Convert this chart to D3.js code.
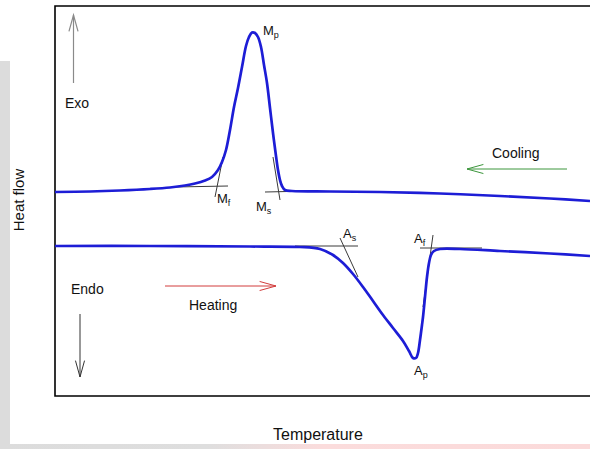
<!DOCTYPE html>
<html>
<head>
<meta charset="utf-8">
<script src="https://cdn.jsdelivr.net/npm/d3@7"></script>
<style>
  html, body { margin: 0; padding: 0; background: #fff; }
  svg { display: block; font-family: "Liberation Sans", Arial, sans-serif; }
</style>
</head>
<body>
<div id="chart"></div>
<script>
/* DSC thermogram sketch: cooling (exo peak, martensite) and heating
   (endo dip, austenite) traces, with onset/finish tangent constructions. */

// Cooling trace: temperature (arb.) vs heat flow (arb.)
var coolT = [0, 7, 13, 19, 23, 26, 28, 30, 31.4, 32.6, 33.4, 34.2, 35, 35.8, 36.6, 37.4, 38.2, 38.8, 39.4,
  40, 40.6, 41.2, 41.8, 42.4, 43, 43.6, 44.2, 44.6, 45, 45.4, 46, 47.4, 55, 65, 77, 89, 99, 107];
var coolH = [40.8, 40.9, 41.1, 41.4, 41.7, 42.1, 42.5, 43.1, 43.8, 45.2, 46.8, 49.2, 53.2, 57.8, 61.6, 65.8, 70, 71.8, 72.7,
  72.6, 71.8, 69.8, 66.2, 62.6, 57.6, 52.6, 48, 45.2, 43.2, 42, 41.2, 41, 40.9, 40.8, 40.5, 40, 39.5, 39];

// Heating trace
var heatT = [0, 19, 39, 49, 53, 55.6, 57.6, 59.6, 61.6, 63.6, 65.6, 67.6, 69.6, 70.8, 71.6, 72.2, 72.6, 73, 73.4, 73.6,
  74, 74.4, 74.8, 75.2, 75.8, 77, 81, 89, 99, 107];
var heatH = [30, 30, 29.9, 29.8, 29.4, 28.2, 26.6, 24.4, 21.8, 19, 16.2, 13.6, 11, 9, 7.6, 7.6, 8.6, 11.2, 14.2, 15.8,
  19.8, 23.8, 26.6, 28.2, 29, 29.4, 29.4, 29, 28.5, 28];

// Tangent construction lines: [T1, H1, T2, H2]
var tangents = [
  [24, 41.8, 34.6, 42], [33.6, 47.8, 32, 39.8],     // Mf
  [42, 40.8, 51, 41], [43.6, 47.8, 45, 39.2],       // Ms
  [48, 30, 60.6, 30], [57, 31.6, 60.6, 23.8],       // As
  [73, 29.6, 85.4, 29.6], [75.6, 32.2, 73.6, 17.8]  // Af
];

// Point labels: main letter, subscript, anchor (T, H)
var ptMain = ['M', 'M', 'M', 'A', 'A', 'A'];
var ptSub = ['p', 'f', 's', 's', 'f', 'p'];
var ptT = [41.6, 32.4, 40.2, 57.6, 71.8, 71.8];
var ptH = [72.2, 38.6, 37, 31.6, 30.6, 4.2];

var W = 590, H = 449;
var svg = d3.select('#chart').append('svg').attr('width', W).attr('height', H);

/* slide background: grey strip left, gradient strip at bottom */
var defs = svg.append('defs');
var grad = defs.append('linearGradient').attr('id', 'bot').attr('x1', 0).attr('x2', 1).attr('y1', 0).attr('y2', 0);
grad.append('stop').attr('offset', '0%').attr('stop-color', '#dcdcdc');
grad.append('stop').attr('offset', '35%').attr('stop-color', '#dedede');
grad.append('stop').attr('offset', '55%').attr('stop-color', '#fbdcdc');
grad.append('stop').attr('offset', '100%').attr('stop-color', '#fbdada');
svg.append('rect').attr('x', 0).attr('y', 61).attr('width', 10).attr('height', H - 61).attr('fill', '#dcdcdc');
svg.append('rect').attr('x', 0).attr('y', 444).attr('width', W).attr('height', 5).attr('fill', 'url(#bot)');

var x = d3.scaleLinear().domain([0, 107]).range([55, 590]);
var y = d3.scaleLinear().domain([0, 78]).range([396, 6]);

/* frame: left, top, bottom (open on the right) */
var frame = svg.append('g').attr('stroke', '#000').attr('stroke-width', 1.6).attr('fill', 'none');
frame.append('path').attr('d', 'M' + W + ',' + y(78) + 'H' + x(0) + 'V' + y(0) + 'H' + W);

var line = d3.line().x(function (d) { return x(d[0]); }).y(function (d) { return y(d[1]); })
  .curve(d3.curveCatmullRom.alpha(0.5));

var tang = svg.append('g').attr('stroke', '#3a3a3a').attr('stroke-width', 1);
tangents.forEach(function (t) {
  tang.append('line').attr('x1', x(t[0])).attr('y1', y(t[1])).attr('x2', x(t[2])).attr('y2', y(t[3]));
});

svg.append('path').datum(d3.zip(coolT, coolH)).attr('d', line)
  .attr('fill', 'none').attr('stroke', '#1d1dd6').attr('stroke-width', 2.7).attr('stroke-linejoin', 'round');
svg.append('path').datum(d3.zip(heatT, heatH)).attr('d', line)
  .attr('fill', 'none').attr('stroke', '#1d1dd6').attr('stroke-width', 2.7).attr('stroke-linejoin', 'round');

ptMain.forEach(function (m, i) {
  var t = svg.append('text').attr('x', x(ptT[i])).attr('y', y(ptH[i]))
    .style('font-size', '13px').style('fill', '#111');
  t.append('tspan').text(m);
  t.append('tspan').attr('dy', 3).style('font-size', '9px').text(ptSub[i]);
});

/* arrows with open heads */
function arrow(x1, y1, x2, y2, color, w) {
  var g = svg.append('g').attr('stroke', color).attr('stroke-width', w || 1).attr('fill', 'none');
  g.append('line').attr('x1', x1).attr('y1', y1).attr('x2', x2).attr('y2', y2);
  var a = Math.atan2(y2 - y1, x2 - x1), L = 17, s = 0.27;
  g.append('path').attr('d',
    'M' + (x2 - L * Math.cos(a - s)) + ',' + (y2 - L * Math.sin(a - s)) +
    'L' + x2 + ',' + y2 +
    'L' + (x2 - L * Math.cos(a + s)) + ',' + (y2 - L * Math.sin(a + s)));
}
arrow(73.5, 83, 73.5, 15, '#8a8a8a', 1.2);
arrow(80, 314, 80, 377, '#333', 1);
arrow(165, 286, 276, 286, '#d23c3c', 1);
arrow(567, 169, 467, 169, '#3c963c', 1);

function label(tx, ty, s, size, rot) {
  var t = svg.append('text').attr('x', tx).attr('y', ty).style('font-size', size + 'px').style('fill', '#111').text(s);
  if (rot) t.attr('text-anchor', 'middle').attr('transform', 'rotate(-90,' + tx + ',' + ty + ')');
  return t;
}
label(65, 108, 'Exo', 14);
label(71, 294, 'Endo', 14);
label(189, 310, 'Heating', 14);
label(492, 158, 'Cooling', 14);
label(24, 200, 'Heat flow', 15, true);
label(273, 440, 'Temperature', 16);
</script>
</body>
</html>
